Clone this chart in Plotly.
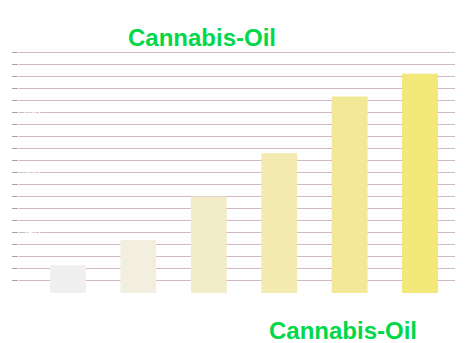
import plotly.graph_objects as go

categories = ["A", "B", "C", "D", "E", "F"]
values = [115, 220, 400, 580, 815, 910]
bar_colors = ["#efefef", "#f2efe0", "#f2ecc8", "#f3eab0", "#f2e898", "#f3e87a"]
tick_values = list(range(50, 1001, 50))
tick_labels = [f"{v:,}" if v % 250 == 0 else "" for v in tick_values]
title_text = "Cannabis-Oil"

W, H = 472, 343
L, R, T, B = 19, 17, 47, 50
pw, ph = W - L - R, H - T - B
y_top = 1000 * ph / 241.0

def px_x(p):
    return (p - L) / pw

def px_y(p):
    return (H - B - p) / ph

fig = go.Figure()
fig.add_trace(go.Bar(
    x=list(range(len(categories))),
    y=values,
    width=0.51,
    marker=dict(color=bar_colors, line=dict(width=0)),
    hoverinfo="skip",
))

fig.update_layout(
    width=W, height=H,
    margin=dict(l=L, r=R, t=T, b=B),
    paper_bgcolor="white",
    plot_bgcolor="white",
    showlegend=False,
    font=dict(family="Liberation Sans, Arial, sans-serif"),
    xaxis=dict(
        range=[-0.696, 5.497],
        showticklabels=False,
        showgrid=False,
        zeroline=False,
        showline=False,
        ticks="",
    ),
    yaxis=dict(
        range=[0, y_top],
        tickmode="array",
        tickvals=tick_values,
        ticktext=tick_labels,
        ticklabelposition="inside",
        tickfont=dict(color="white", size=11),
        ticks="outside",
        ticklen=6,
        tickcolor="#97a3b6",
        tickwidth=1,
        showgrid=True,
        gridcolor="#d2b8c6",
        gridwidth=1,
        zeroline=False,
        showline=False,
    ),
    annotations=[
        dict(text=f"<b>{title_text}</b>", x=px_x(202), y=px_y(38), xref="paper", yref="paper",
             xanchor="center", yanchor="middle", showarrow=False,
             font=dict(size=24, color="#00d84a", family="Liberation Sans, Arial, sans-serif")),
        dict(text=f"<b>{title_text}</b>", x=px_x(343), y=px_y(330), xref="paper", yref="paper",
             xanchor="center", yanchor="middle", showarrow=False,
             font=dict(size=24, color="#00d84a", family="Liberation Sans, Arial, sans-serif")),
    ],
)

fig.write_html("out.html")
